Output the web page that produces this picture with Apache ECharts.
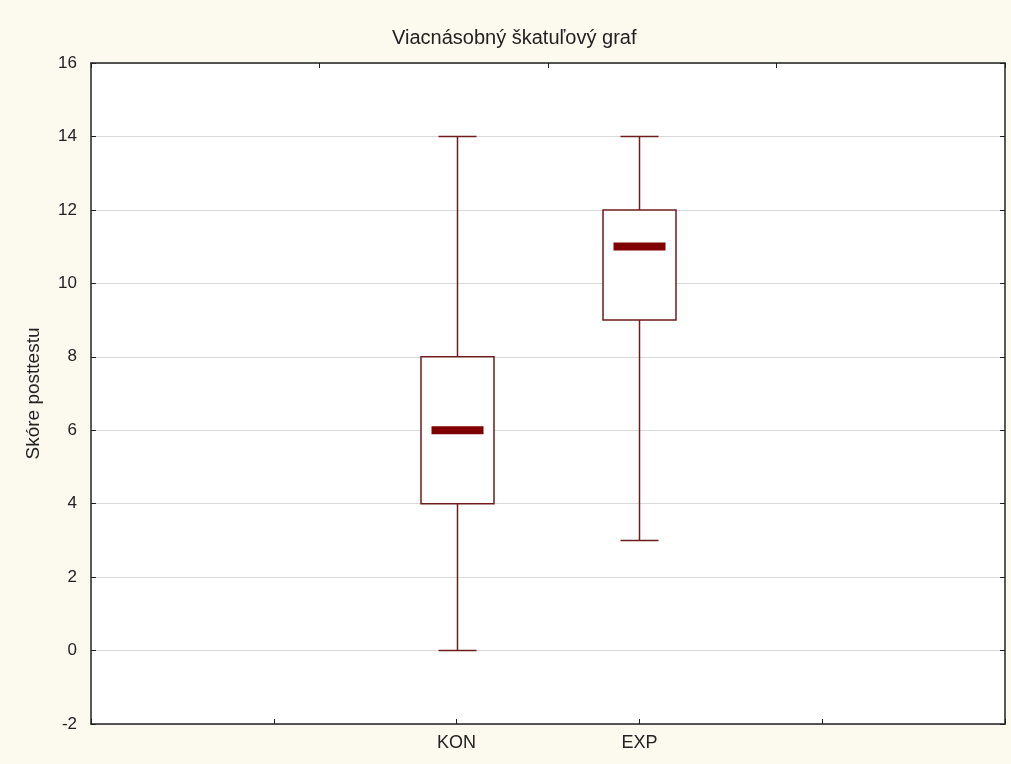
<!DOCTYPE html>
<html>
<head>
<meta charset="utf-8">
<script src="https://cdn.jsdelivr.net/npm/echarts@6/dist/echarts.min.js"></script>
<style>
html,body{margin:0;padding:0;background:#fcf9ef;}
#chart{width:1011px;height:764px;}
</style>
</head>
<body>
<div id="chart"></div>
<script>
// Data
const categorySlots = ['', '', 'KON', 'EXP', '', ''];
const groups = ['KON', 'EXP'];
const mins = [0, 3];
const q1s = [4, 9];
const medians = [6, 11];
const q3s = [8, 12];
const maxs = [14, 14];
const yTicks = { min: -2, max: 16, interval: 2 };
const titleText = 'Viacnásobný škatuľový graf';
const yName = 'Skóre posttestu';

const FONT = '"Liberation Sans", Arial, sans-serif';
const boxColor = '#6e1c1c';
const medColor = '#800000';
const frameColor = '#222';

const seriesData = groups.map((g, i) => [categorySlots.indexOf(g), mins[i], q1s[i], medians[i], q3s[i], maxs[i]]);

const chart = echarts.init(document.getElementById('chart'), null, {renderer: 'canvas'});

function renderItem(params, api) {
  const x = api.value(0);
  const pMin = api.coord([x, api.value(1)]);
  const pQ1 = api.coord([x, api.value(2)]);
  const pMed = api.coord([x, api.value(3)]);
  const pQ3 = api.coord([x, api.value(4)]);
  const pMax = api.coord([x, api.value(5)]);
  const cx = Math.round(pMed[0]) + 0.5;
  const boxW = 73, capW = 38, medW = 52, medH = 8;
  const lineStyle = {stroke: boxColor, lineWidth: 1.5, fill: null};
  return {
    type: 'group',
    children: [
      {type: 'line', shape: {x1: cx, y1: pMax[1], x2: cx, y2: pQ3[1]}, style: lineStyle},
      {type: 'line', shape: {x1: cx, y1: pQ1[1], x2: cx, y2: pMin[1]}, style: lineStyle},
      {type: 'line', shape: {x1: cx - capW / 2, y1: pMax[1], x2: cx + capW / 2, y2: pMax[1]}, style: lineStyle},
      {type: 'line', shape: {x1: cx - capW / 2, y1: pMin[1], x2: cx + capW / 2, y2: pMin[1]}, style: lineStyle},
      {type: 'rect', shape: {x: cx - boxW / 2, y: pQ3[1], width: boxW, height: pQ1[1] - pQ3[1]},
        style: {stroke: boxColor, lineWidth: 1.5, fill: '#fff'}},
      {type: 'rect', shape: {x: cx - medW / 2, y: pMed[1] - medH / 2, width: medW, height: medH},
        style: {fill: medColor}}
    ]
  };
}

chart.setOption({
  backgroundColor: '#fcf9ef',
  animation: false,
  title: {
    text: titleText,
    left: 387, top: 23,
    textStyle: {fontFamily: FONT, fontSize: 20, fontWeight: 'normal', color: '#222'}
  },
  grid: {left: 91, right: 6, top: 63, bottom: 40, show: true, backgroundColor: '#fff', borderWidth: 0},
  xAxis: [
    {
      type: 'category', data: categorySlots, boundaryGap: false, position: 'bottom',
      axisLine: {show: true, onZero: false, lineStyle: {color: frameColor, width: 1.5}},
      axisTick: {show: true, inside: true, length: 5, lineStyle: {color: frameColor}},
      axisLabel: {fontFamily: FONT, fontSize: 18, color: '#222', margin: 10},
      splitLine: {show: false}
    },
    {
      type: 'value', min: 0, max: 4, interval: 1, position: 'top',
      axisLine: {show: true, onZero: false, lineStyle: {color: frameColor, width: 1.5}},
      axisTick: {show: true, inside: true, length: 5, lineStyle: {color: frameColor}},
      axisLabel: {show: false},
      splitLine: {show: false}
    }
  ],
  yAxis: [
    {
      type: 'value', min: yTicks.min, max: yTicks.max, interval: yTicks.interval, position: 'left',
      name: yName, nameLocation: 'middle', nameGap: 48,
      nameTextStyle: {fontFamily: FONT, fontSize: 19, color: '#222'},
      axisLine: {show: true, onZero: false, lineStyle: {color: frameColor, width: 1.5}},
      axisTick: {show: true, inside: true, length: 5, lineStyle: {color: frameColor}},
      axisLabel: {fontFamily: FONT, fontSize: 17, color: '#222', margin: 14},
      splitLine: {show: true, lineStyle: {color: '#d9d9d9', width: 1}}
    },
    {
      type: 'value', min: yTicks.min, max: yTicks.max, interval: yTicks.interval, position: 'right',
      axisLine: {show: true, onZero: false, lineStyle: {color: frameColor, width: 1.5}},
      axisTick: {show: true, inside: true, length: 5, lineStyle: {color: frameColor}},
      axisLabel: {show: false},
      splitLine: {show: false}
    }
  ],
  series: [{
    type: 'custom',
    xAxisIndex: 0, yAxisIndex: 0,
    renderItem: renderItem,
    data: seriesData,
    encode: {x: 0, y: [1, 2, 3, 4, 5]},
    clip: false
  }]
});
</script>
</body>
</html>
